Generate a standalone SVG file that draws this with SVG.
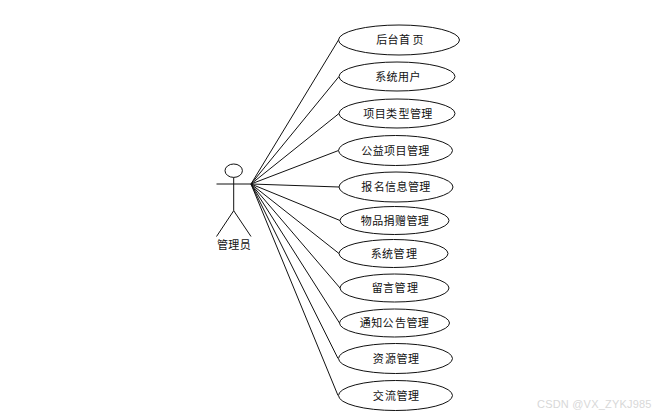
<svg xmlns="http://www.w3.org/2000/svg" width="661" height="418" viewBox="0 0 661 418">
<style>
.s{fill:#fff;stroke:#111;stroke-width:1}
.l{fill:none;stroke:#111;stroke-width:1}
text{font-family:"Noto Sans CJK SC","Liberation Sans",sans-serif;font-size:11px;fill:#111;stroke:none;text-anchor:middle;letter-spacing:.4px}
text.w{font-family:"Liberation Sans",sans-serif;font-size:11px;fill:#d8d8d8;text-anchor:start;letter-spacing:.2px}
</style>
<rect width="661" height="418" fill="#fff"/>
<g id="connectors" class="l">
<path d="M251 184L338.500 40"/><path d="M251 184L339 76.500"/><path d="M251 184L339 113.500"/><path d="M251 184L338.500 150.500"/><path d="M251 184L339 187"/><path d="M251 184L340 220.500"/><path d="M251 184L339 253.500"/><path d="M251 184L340 288"/><path d="M251 184L339.500 323"/><path d="M251 184L338 358.500"/><path d="M251 184L338 395.500"/>
</g>
<g id="actor" class="l">
<ellipse cx="233.700" cy="170.700" rx="8.700" ry="6.700"/>
<path d="M216.500 184H251M233.700 177.500V210.700L216.500 236.500M233.700 210.700L251 236.500"/>
<text x="234" y="249">管理员</text>
</g>
<g id="n1"><ellipse class="s" cx="399" cy="40" rx="60.500" ry="15"/><text x="400" y="44">后台首<tspan dx="2">页</tspan></text></g>
<g id="n2"><ellipse class="s" cx="397" cy="76.500" rx="58" ry="14.500"/><text x="398" y="80.500">系统用户</text></g>
<g id="n3"><ellipse class="s" cx="397" cy="113.500" rx="58" ry="14.500"/><text x="398" y="117.500">项目类<tspan dx="1">型管理</tspan></text></g>
<g id="n4"><ellipse class="s" cx="395.500" cy="150.500" rx="57" ry="15"/><text x="395.500" y="154.500">公益项目管理</text></g>
<g id="n5"><ellipse class="s" cx="396" cy="187" rx="57" ry="15"/><text x="396" y="191">报<tspan dx="1">名信息管理</tspan></text></g>
<g id="n6"><ellipse class="s" cx="394.500" cy="220.500" rx="54.500" ry="14"/><text x="395" y="224.500">物品捐赠管理</text></g>
<g id="n7"><ellipse class="s" cx="393.500" cy="253.500" rx="54.500" ry="14"/><text x="394" y="258">系统管<tspan dx="1">理</tspan></text></g>
<g id="n8"><ellipse class="s" cx="394.500" cy="288" rx="54.500" ry="14"/><text x="395" y="292">留言管<tspan dx="1">理</tspan></text></g>
<g id="n9"><ellipse class="s" cx="394.500" cy="323" rx="55" ry="14"/><text x="394.500" y="327">通知公<tspan dx="1">告管理</tspan></text></g>
<g id="n10"><ellipse class="s" cx="395.500" cy="358.500" rx="57" ry="15"/><text x="396" y="362.500">资<tspan dx="1">源管理</tspan></text></g>
<g id="n11"><ellipse class="s" cx="395.500" cy="395.500" rx="57" ry="15"/><text x="396" y="399.500">交<tspan dx="1">流管理</tspan></text></g>
<text class="w" x="537" y="408">CSDN @VX_ZYKJ985</text>
</svg>
